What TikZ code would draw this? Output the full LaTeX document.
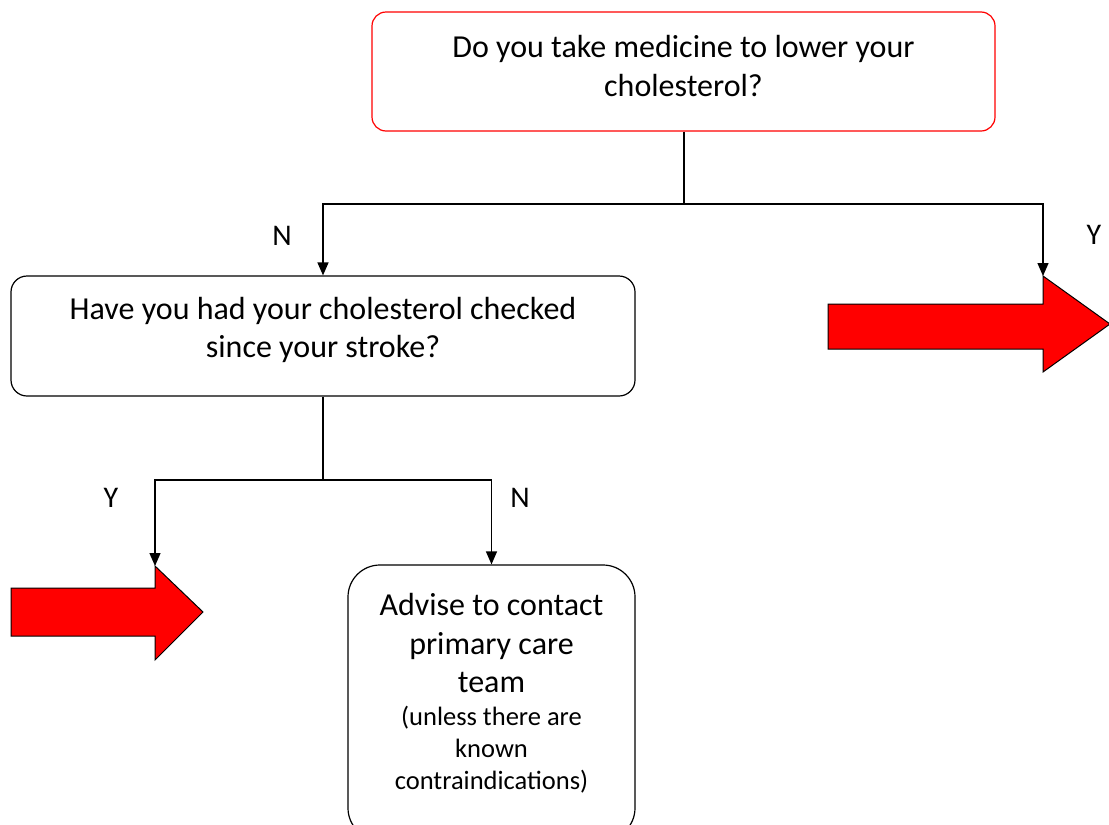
\documentclass[tikz,border=0pt]{standalone}
\usepackage{fontspec}
\setmainfont{Carlito}
\usetikzlibrary{arrows.meta}
\definecolor{boxred}{RGB}{255,0,0}
\begin{document}
\begin{tikzpicture}[x=1pt,y=-1pt,
  flowbox/.style={draw=black, line width=1.2pt, rounded corners=#1, inner sep=0pt},
  flowbox/.default=14pt,
  body/.style={font=\fontsize{32}{38.5}\selectfont, align=center},
  small/.style={font=\fontsize{26.5}{32}\selectfont, align=center},
  lbl/.style={font=\fontsize{30}{34}\selectfont},
  link/.style={draw=black, line width=1.3pt},
  tolink/.style={link, -{Triangle[width=11pt,length=13pt]}},
  bigarrow/.style={fill=boxred, draw=black, line width=1pt, line join=miter}
]
\useasboundingbox (0,0) rectangle (1109,825);

% question boxes
\node[flowbox, draw=boxred, minimum width=623pt, minimum height=119pt] (q1) at (683.5,71.5) {};
\node[body] (q1t) at (683.5,66) {Do you take medicine to lower your\\cholesterol?};

\node[flowbox=16pt, minimum width=624pt, minimum height=120pt] (q2) at (323,336) {};
\node[body] (q2t) at (323,330) {Have you had your cholesterol checked\\since your stroke?};

% advice box (runs past the lower edge)
\node[flowbox=32pt, minimum width=287pt, minimum height=275pt] (adv) at (491.5,702.5) {};
\node[body] (advt) at (491.5,643) {Advise to contact\\primary care\\team};
\node[small] (advs) at (491.5,750) {(unless there are\\known\\contraindications)};

% block arrows
\coordinate (ra) at (1043,276);
\coordinate (la) at (155,566);
\draw[bigarrow] (828,304) -- (1043,304) -- (ra) -- (1110,324) -- (1043,372) -- (1043,349) -- (828,349) -- cycle;
\draw[bigarrow] (11,588) -- (155,588) -- (la) -- (203,612) -- (155,660) -- (155,636) -- (11,636) -- cycle;

% connectors
\coordinate (j1) at (684,204);
\coordinate (j2) at (323,480);
\draw[link] (q1.south -| j1) -- (j1);
\draw[tolink] (j1) -| (q2.north);
\draw[tolink] (j1) -| (ra);
\draw[link] (q2.south) -- (j2);
\draw[tolink] (j2) -| (la);
\draw[tolink] (j2) -| (adv.north);

% branch labels
\node[lbl] (n1) at (282,236) {N};
\node[lbl] (y1) at (1094,235) {Y};
\node[lbl] (y2) at (111,498) {Y};
\node[lbl] (n2) at (520,498) {N};
\end{tikzpicture}
\end{document}
